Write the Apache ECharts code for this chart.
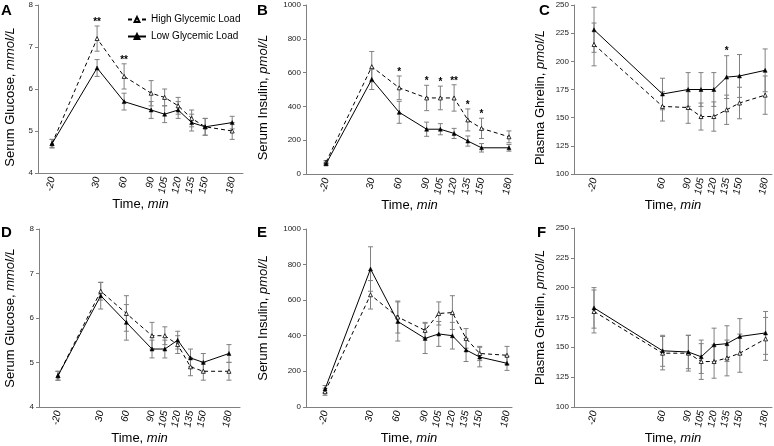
<!DOCTYPE html>
<html>
<head>
<meta charset="utf-8">
<script src="https://cdn.jsdelivr.net/npm/echarts@6/dist/echarts.min.js"></script>
<style>html,body{margin:0;padding:0;background:#fff}#c{width:774px;height:446px}</style>
</head>
<body>
<div id="c"></div>
<script>
// ---- Data ----
const timesGlu = [-20, 30, 60, 90, 105, 120, 135, 150, 180];
const timesGhr = [-20, 60, 90, 105, 120, 135, 150, 180];

// Panel A: serum glucose (mmol/L)
const aHigh = [4.7, 7.2, 6.3, 5.9, 5.8, 5.6, 5.3, 5.1, 5.0];
const aHighErr = [0.1, 0.3, 0.3, 0.3, 0.2, 0.2, 0.2, 0.2, 0.2];
const aLow = [4.7, 6.5, 5.7, 5.5, 5.4, 5.5, 5.2, 5.1, 5.2];
const aLowErr = [0.1, 0.2, 0.2, 0.2, 0.2, 0.2, 0.2, 0.2, 0.15];
const aSig = ['', '**', '**', '', '', '', '', '', ''];

// Panel B: serum insulin (pmol/L)
const bHigh = [70, 635, 510, 450, 450, 450, 320, 270, 220];
const bHighErr = [10, 90, 70, 75, 70, 78, 65, 60, 35];
const bLow = [60, 560, 365, 265, 265, 240, 195, 155, 155];
const bLowErr = [10, 60, 65, 42, 33, 30, 30, 25, 20];
const bSig = ['', '', '*', '*', '*', '**', '*', '*', ''];

// Panel C: plasma ghrelin (pmol/L)
const cHigh = [215, 160, 159, 151, 151, 157, 163, 170];
const cHighErr = [19, 13, 14, 12, 13, 13, 14, 17];
const cLow = [228, 171, 175, 175, 175, 186, 187, 192];
const cLowErr = [20, 14, 15, 15, 15, 19, 19, 19];
const cSig = ['', '', '', '', '', '*', '', ''];

// Panel D: serum glucose (mmol/L)
const dHigh = [4.7, 6.6, 6.1, 5.6, 5.6, 5.4, 4.9, 4.8, 4.8];
const dHighErr = [0.1, 0.2, 0.4, 0.3, 0.2, 0.2, 0.2, 0.2, 0.2];
const dLow = [4.7, 6.5, 5.9, 5.3, 5.3, 5.5, 5.1, 5.0, 5.2];
const dLowErr = [0.1, 0.3, 0.4, 0.2, 0.2, 0.2, 0.2, 0.2, 0.2];
const dSig = ['', '', '', '', '', '', '', '', ''];

// Panel E: serum insulin (pmol/L)
const eHigh = [85, 630, 505, 430, 525, 530, 385, 300, 290];
const eHighErr = [20, 80, 90, 45, 65, 95, 55, 40, 50];
const eLow = [100, 775, 480, 385, 410, 400, 320, 280, 245];
const eLowErr = [20, 125, 110, 85, 70, 75, 65, 55, 40];
const eSig = ['', '', '', '', '', '', '', '', ''];

// Panel F: plasma ghrelin (pmol/L)
const fHigh = [180, 145, 145, 138, 138, 141, 145, 157];
const fHighErr = [18, 14, 15, 15, 14, 15, 16, 18];
const fLow = [183, 147, 146, 142, 152, 153, 159, 162];
const fLowErr = [17, 13, 14, 14, 14, 15, 15, 18];
const fSig = ['', '', '', '', '', '', '', ''];

const panelLetters = ['A', 'B', 'C', 'D', 'E', 'F'];
const seriesNames = ['High Glycemic Load', 'Low Glycemic Load'];

// ---- Layout / style ----
const FF = 'Liberation Sans, Arial, Helvetica, sans-serif';
const panels = [
  {letter:'A', times:timesGlu, high:aHigh, highErr:aHighErr, low:aLow, lowErr:aLowErr, sig:aSig,
   grid:{left:38, top:5, width:205, height:168}, xMin:-35.6, xMax:192, yMin:4, yMax:8, yInt:1,
   yName:'{n|Serum Glucose, }{i|mmol/L}', yGap:21, lx:1, ly:3, shift:true},
  {letter:'B', times:timesGlu, high:bHigh, highErr:bHighErr, low:bLow, lowErr:bLowErr, sig:bSig,
   grid:{left:306, top:5, width:207, height:169}, xMin:-41.9, xMax:184.4, yMin:0, yMax:1000, yInt:200,
   yName:'{n|Serum Insulin, }{i|pmol/L}', yGap:36, lx:257, ly:3, shift:true},
  {letter:'C', times:timesGhr, high:cHigh, highErr:cHighErr, low:cLow, lowErr:cLowErr, sig:cSig,
   grid:{left:574, top:5, width:198, height:169}, xMin:-43.4, xMax:188, yMin:100, yMax:250, yInt:25,
   yName:'{n|Plasma Ghrelin, }{i|pmol/L}', yGap:27, lx:539, ly:3, shift:true},
  {letter:'D', times:timesGlu, high:dHigh, highErr:dHighErr, low:dLow, lowErr:dLowErr, sig:dSig,
   grid:{left:39, top:229, width:201, height:182}, xMin:-42.2, xMax:192.9, yMin:4, yMax:8, yInt:1,
   yName:'{n|Serum Glucose, }{i|mmol/L}', yGap:22, lx:1, ly:225, shift:false},
  {letter:'E', times:timesGlu, high:eHigh, highErr:eHighErr, low:eLow, lowErr:eLowErr, sig:eSig,
   grid:{left:306, top:229, width:206, height:182}, xMin:-40.9, xMax:185.5, yMin:0, yMax:1000, yInt:200,
   yName:'{n|Serum Insulin, }{i|pmol/L}', yGap:36, lx:257, ly:225, shift:false},
  {letter:'F', times:timesGhr, high:fHigh, highErr:fHighErr, low:fLow, lowErr:fLowErr, sig:fSig,
   grid:{left:574, top:228, width:198, height:183}, xMin:-43.3, xMax:187.5, yMin:100, yMax:250, yInt:25,
   yName:'{n|Plasma Ghrelin, }{i|pmol/L}', yGap:27, lx:537, ly:225, shift:false}
];

const nameRich = {
  n: {fontSize:13, fontFamily:FF, color:'#000'},
  i: {fontSize:13, fontFamily:FF, color:'#000', fontStyle:'italic'}
};

function errRender(params, api) {
  const x = api.value(0), lo = api.value(1), hi = api.value(2);
  const pLo = api.coord([x, lo]), pHi = api.coord([x, hi]);
  const cw = 2.5;
  const st = {stroke:'#808080', lineWidth:1};
  return {type:'group', children:[
    {type:'line', shape:{x1:pLo[0], y1:pLo[1], x2:pHi[0], y2:pHi[1]}, style:st},
    {type:'line', shape:{x1:pLo[0]-cw, y1:pLo[1], x2:pLo[0]+cw, y2:pLo[1]}, style:st},
    {type:'line', shape:{x1:pHi[0]-cw, y1:pHi[1], x2:pHi[0]+cw, y2:pHi[1]}, style:st}
  ]};
}
function sigRender(params, api) {
  const x = api.value(0), top = api.value(1);
  const txt = params.dataIndexInside >= 0 ? sigData[params.seriesIndex][params.dataIndexInside] : '';
  const p = api.coord([x, top]);
  return {type:'text', x:p[0], y:p[1]-9, style:{text:txt, textAlign:'center', textVerticalAlign:'top',
    fontSize:10, fontWeight:'bold', fontFamily:FF, fill:'#000'}};
}

const grids = [], xAxes = [], yAxes = [], series = [], titles = [];
const sigData = {};

panels.forEach((p, i) => {
  grids.push(Object.assign({containLabel:false}, p.grid));
  titles.push({text:p.letter, left:p.lx, top:p.ly, padding:0,
    textStyle:{fontSize:15, fontWeight:'bold', fontFamily:FF, color:'#000'}});
  xAxes.push({
    type:'value', gridIndex:i, min:p.xMin, max:p.xMax,
    axisLine:{show:true, onZero:false, lineStyle:{color:'#808080', width:1}},
    axisTick:{show:false}, splitLine:{show:false},
    axisLabel:{customValues:p.times, rotate:80, fontStyle:'italic', fontSize:10, fontFamily:FF,
      color:'#000', margin:4, showMinLabel:true, showMaxLabel:true},
    name:'{n|Time, }{i|min}', nameLocation:'middle', nameGap:i < 3 ? 24 : 21,
    nameTextStyle:{rich:nameRich}
  });
  yAxes.push({
    type:'value', gridIndex:i, min:p.yMin, max:p.yMax, interval:p.yInt,
    axisLine:{show:true, onZero:false, lineStyle:{color:'#808080', width:1}},
    axisTick:{show:true, length:3, lineStyle:{color:'#808080'}},
    splitLine:{show:false},
    axisLabel:{fontSize:8, fontFamily:FF, color:'#222', margin:5, formatter:v => String(v)},
    name:p.yName, nameLocation:'middle', nameGap:p.yGap, nameRotate:90,
    nameTextStyle:{rich:nameRich, padding: p.shift ? [0, 16, 0, 0] : 0, verticalAlign:'bottom'}
  });
  const hiErr = p.times.map((t, k) => [t, p.high[k] - p.highErr[k], p.high[k] + p.highErr[k]]);
  const loErr = p.times.map((t, k) => [t, p.low[k] - p.lowErr[k], p.low[k] + p.lowErr[k]]);
  series.push({type:'custom', xAxisIndex:i, yAxisIndex:i, renderItem:errRender, data:hiErr, z:1, silent:true, encode:{x:0, y:[1,2]}});
  series.push({type:'custom', xAxisIndex:i, yAxisIndex:i, renderItem:errRender, data:loErr, z:1, silent:true, encode:{x:0, y:[1,2]}});
  series.push({
    name:seriesNames[0], type:'line', xAxisIndex:i, yAxisIndex:i,
    data:p.times.map((t, k) => [t, p.high[k]]),
    symbol:'triangle', symbolSize:4, showSymbol:true,
    lineStyle:{color:'#000', width:1, type:[4, 3]},
    itemStyle:{color:'#fff', borderColor:'#000', borderWidth:0.8},
    z:3, animation:false
  });
  series.push({
    name:seriesNames[1], type:'line', xAxisIndex:i, yAxisIndex:i,
    data:p.times.map((t, k) => [t, p.low[k]]),
    symbol:'triangle', symbolSize:4, showSymbol:true,
    lineStyle:{color:'#000', width:1, type:'solid'},
    itemStyle:{color:'#000', borderColor:'#000', borderWidth:0.5},
    z:4, animation:false
  });
  const sIdx = series.length;
  const sigPts = [], sigTxt = [];
  p.times.forEach((t, k) => {
    if (p.sig[k]) {
      sigPts.push([t, Math.max(p.high[k] + p.highErr[k], p.low[k] + p.lowErr[k])]);
      sigTxt.push(p.sig[k]);
    }
  });
  sigData[sIdx] = sigTxt;
  series.push({type:'custom', xAxisIndex:i, yAxisIndex:i, renderItem:sigRender, data:sigPts, z:5, silent:true, encode:{x:0, y:1}});
});

const chart = echarts.init(document.getElementById('c'), null, {renderer:'canvas'});
chart.setOption({
  animation:false,
  backgroundColor:'#fff',
  title:titles,
  legend:{
    data:seriesNames, orient:'vertical', left:122, top:9, itemWidth:18, itemHeight:6,
    itemGap:6, selectedMode:false,
    textStyle:{fontSize:10, fontFamily:FF, color:'#000', lineHeight:11}
  },
  grid:grids, xAxis:xAxes, yAxis:yAxes, series:series
});
</script>
</body>
</html>
